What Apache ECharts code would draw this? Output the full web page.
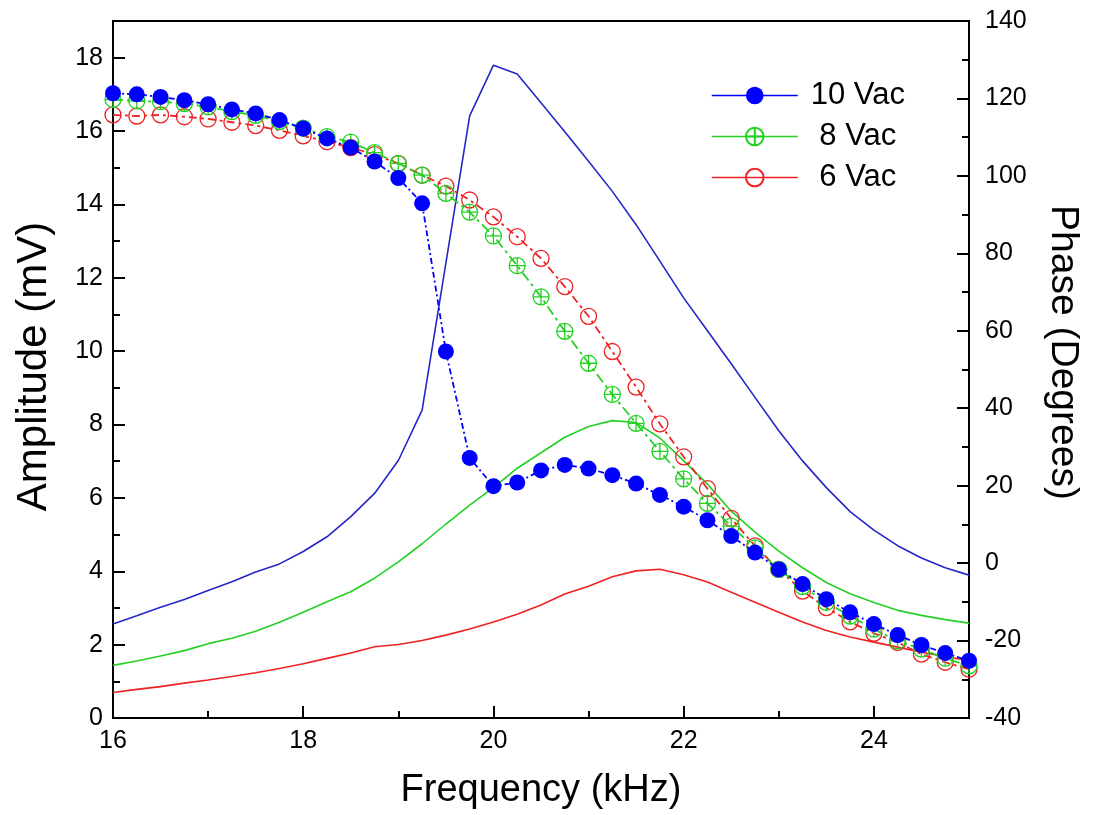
<!DOCTYPE html>
<html>
<head>
<meta charset="utf-8">
<script src="https://cdn.jsdelivr.net/npm/echarts@6/dist/echarts.min.js"></script>
<style>
html,body{margin:0;padding:0;background:#fff;}
#chart{width:1093px;height:815px;}
</style>
</head>
<body>
<div id="chart"></div>
<script>
// ---------------- data ----------------
var freq = [16,16.25,16.5,16.75,17,17.25,17.5,17.75,18,18.25,18.5,18.75,19,19.25,19.5,19.75,20,20.25,20.5,20.75,21,21.25,21.5,21.75,22,22.25,22.5,22.75,23,23.25,23.5,23.75,24,24.25,24.5,24.75,25];

var legendNames = ['10 Vac','8 Vac','6 Vac'];

// Amplitude (mV), left axis
var amp10 = [17.03,17.0,16.93,16.84,16.73,16.59,16.48,16.3,16.07,15.8,15.55,15.17,14.72,14.03,9.99,7.09,6.32,6.42,6.75,6.9,6.8,6.62,6.39,6.08,5.76,5.39,4.96,4.51,4.05,3.65,3.24,2.88,2.56,2.26,1.99,1.77,1.56];
var amp8  = [16.86,16.82,16.8,16.75,16.66,16.53,16.43,16.26,16.08,15.85,15.7,15.41,15.12,14.8,14.3,13.79,13.14,12.33,11.48,10.54,9.67,8.82,8.03,7.27,6.52,5.85,5.23,4.64,4.05,3.58,3.15,2.78,2.42,2.1,1.88,1.63,1.42];
var amp6  = [16.44,16.41,16.44,16.39,16.33,16.24,16.15,16.02,15.87,15.71,15.55,15.36,15.11,14.8,14.5,14.12,13.66,13.12,12.53,11.76,10.95,9.99,9.02,8.02,7.12,6.25,5.44,4.69,4.05,3.46,3.01,2.62,2.31,2.06,1.74,1.52,1.33];

// Phase (Degrees), right axis
var phase10 = [-15.7,-13.6,-11.4,-9.4,-7.1,-4.8,-2.3,-0.2,3.0,6.8,12.0,18.0,26.5,39.5,77.5,115.5,128.6,126.3,118.9,111.4,103.8,96.0,87.4,78.0,68.5,60.0,51.5,42.8,34.2,26.4,19.5,13.3,8.5,4.5,1.3,-1.2,-3.1];
var phase8  = [-26.4,-25.3,-24.0,-22.6,-20.8,-19.4,-17.6,-15.3,-12.7,-10.0,-7.4,-3.9,0.3,5.0,10.1,15.0,19.5,24.5,28.5,32.5,35.3,36.8,36.3,32.3,26.4,20.4,13.4,8.0,3.1,-1.2,-5.0,-7.9,-10.2,-12.2,-13.5,-14.6,-15.5];
var phase6  = [-33.4,-32.6,-31.9,-31.0,-30.2,-29.3,-28.3,-27.2,-26.0,-24.6,-23.2,-21.6,-21.0,-20.0,-18.6,-17.0,-15.2,-13.2,-10.8,-8.0,-6.0,-3.5,-2.0,-1.6,-3.0,-4.9,-7.5,-10.1,-12.7,-15.2,-17.4,-19.1,-20.4,-21.7,-23.0,-24.1,-25.2];

var xTicks = {min:16, max:25, major:2, minor:1};
var yLeftTicks = {min:0, max:19, major:2, minor:1};
var yRightTicks = {min:-40, max:140, major:20, minor:10};

// ---------------- helpers ----------------
function zip(xs, ys){ return xs.map(function(x,i){ return [x, ys[i]]; }); }

var FONT = "Arial, 'Liberation Sans', sans-serif";
var BLUE = '#0000ff', BLUE_LINE = '#2626c8', GREEN = '#25d025', RED = '#ee2222';
var axisLineStyle = {color:'#000', width:2};
var tickLineStyle = {color:'#000', width:2};
var labelStyle = {fontSize:25, color:'#000', fontFamily:FONT};

var circlePlus = 'path://M0,-10A10,10,0,1,1,0,10A10,10,0,1,1,0,-10ZM-10,0L10,0M0,-10L0,10';
var circleOpen = 'path://M0,-10A10,10,0,1,1,0,10A10,10,0,1,1,0,-10Z';

var chart = echarts.init(document.getElementById('chart'), null, {renderer:'canvas'});

var option = {
  animation:false,
  backgroundColor:'#fff',
  textStyle:{fontFamily:FONT},
  grid:{left:113, right:124, top:21, bottom:97, show:true, borderColor:'#000', borderWidth:2, backgroundColor:'transparent'},
  legend:{
    data:legendNames,
    orient:'vertical',
    left:706, top:75,
    itemWidth:86, itemHeight:22, itemGap:10,
    textStyle:{fontSize:31, color:'#000', fontFamily:FONT, padding:[0,0,0,8]},
    lineStyle:{type:'solid', width:1.5},
    formatter:function(n){ return n.length < 6 ? ' ' + n : n; }
  },
  xAxis:[
    {type:'value', min:xTicks.min, max:xTicks.max, interval:xTicks.major, position:'bottom',
     axisLine:{lineStyle:axisLineStyle}, axisTick:{inside:true, length:12, lineStyle:tickLineStyle},
     axisLabel:Object.assign({showMaxLabel:false, margin:11}, labelStyle),
     splitLine:{show:false},
     name:'Frequency (kHz)', nameLocation:'middle', nameGap:54,
     nameTextStyle:{fontSize:38, color:'#000', fontFamily:FONT}},
    {type:'value', min:xTicks.min, max:xTicks.max, interval:xTicks.minor, position:'bottom',
     axisLine:{show:false}, axisTick:{inside:true, length:7, lineStyle:tickLineStyle},
     axisLabel:{show:false}, splitLine:{show:false}}
  ],
  yAxis:[
    {type:'value', min:yLeftTicks.min, max:yLeftTicks.max, interval:yLeftTicks.major, position:'left',
     axisLine:{show:true, lineStyle:axisLineStyle}, axisTick:{show:true, inside:true, length:12, lineStyle:tickLineStyle},
     axisLabel:Object.assign({showMaxLabel:false, margin:10}, labelStyle),
     splitLine:{show:false},
     name:'Amplitude (mV)', nameLocation:'middle', nameGap:58,
     nameTextStyle:{fontSize:42, color:'#000', fontFamily:FONT, padding:[0,0,0,6]}},
    {type:'value', min:yLeftTicks.min, max:yLeftTicks.max, interval:yLeftTicks.minor, position:'left',
     axisLine:{show:false}, axisTick:{show:true, inside:true, length:7, lineStyle:tickLineStyle},
     axisLabel:{show:false}, splitLine:{show:false}},
    {type:'value', min:yRightTicks.min, max:yRightTicks.max, interval:yRightTicks.major, position:'right',
     axisLine:{show:true, lineStyle:axisLineStyle}, axisTick:{show:true, inside:true, length:12, lineStyle:tickLineStyle},
     axisLabel:Object.assign({margin:16}, labelStyle),
     splitLine:{show:false},
     name:'Phase (Degrees)', nameLocation:'middle', nameRotate:-90, nameGap:74,
     nameTextStyle:{fontSize:39, color:'#000', fontFamily:FONT, padding:[0,34,0,0]}},
    {type:'value', min:yRightTicks.min, max:yRightTicks.max, interval:yRightTicks.minor, position:'right',
     axisLine:{show:false}, axisTick:{show:true, inside:true, length:7, lineStyle:tickLineStyle},
     axisLabel:{show:false}, splitLine:{show:false}}
  ],
  series:[
    {name:'phase10', type:'line', xAxisIndex:0, yAxisIndex:2, data:zip(freq, phase10), showSymbol:false, symbol:'none',
     lineStyle:{color:BLUE_LINE, width:1.6}, itemStyle:{color:BLUE_LINE}, z:2},
    {name:'phase8', type:'line', xAxisIndex:0, yAxisIndex:2, data:zip(freq, phase8), showSymbol:false, symbol:'none',
     lineStyle:{color:GREEN, width:1.6}, itemStyle:{color:GREEN}, z:2},
    {name:'phase6', type:'line', xAxisIndex:0, yAxisIndex:2, data:zip(freq, phase6), showSymbol:false, symbol:'none',
     lineStyle:{color:RED, width:1.6}, itemStyle:{color:RED}, z:2},
    {name:legendNames[2], type:'line', xAxisIndex:0, yAxisIndex:0, data:zip(freq, amp6),
     symbol:circleOpen, symbolSize:16,
     lineStyle:{color:RED, width:1.8, type:[8,4,3,4]},
     itemStyle:{color:'rgba(255,255,255,0)', borderColor:RED, borderWidth:1.3}, z:3},
    {name:legendNames[1], type:'line', xAxisIndex:0, yAxisIndex:0, data:zip(freq, amp8),
     symbol:circlePlus, symbolSize:16,
     lineStyle:{color:GREEN, width:1.8, type:[10,4,3,4]},
     itemStyle:{color:'rgba(255,255,255,0)', borderColor:GREEN, borderWidth:1.3}, z:4},
    {name:legendNames[0], type:'line', xAxisIndex:0, yAxisIndex:0, data:zip(freq, amp10),
     symbol:'circle', symbolSize:16,
     lineStyle:{color:BLUE, width:1.8, type:[6,3,2,3]},
     itemStyle:{color:BLUE, borderWidth:0}, z:5}
  ]
};
chart.setOption(option);
</script>
</body>
</html>
